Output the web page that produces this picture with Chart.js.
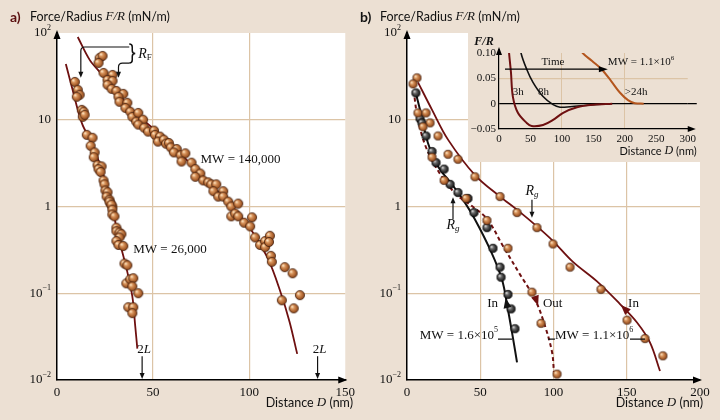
<!DOCTYPE html>
<html>
<head>
<meta charset="utf-8">
<title>Polymer brush forces</title>
<script src="https://cdn.jsdelivr.net/npm/chart.js"></script>
<style>
  html, body { margin: 0; padding: 0; background: #ece0d3; }
  #wrap { position: relative; width: 720px; height: 420px; overflow: hidden; background: #ece0d3; }
  canvas { position: absolute; }
  #panelA { left: 0; top: 0; }
  #panelB { left: 360px; top: 0; }
  #inset { left: 468px; top: 32px; background: #ece0d3; }
</style>
</head>
<body>
<div id="wrap">
  <canvas id="panelA" width="360" height="420"></canvas>
  <canvas id="panelB" width="360" height="420"></canvas>
  <canvas id="inset" width="232" height="130"></canvas>
</div>
<script>
// ===== DATA =====
// shared log axis (F/R in mN/m)
const logTickValues = [100, 10, 1, 0.1, 0.01];
const logTickBase = ['10', '10', '1', '10', '10'];
const logTickExp = ['2', '', '', '\u22121', '\u22122'];

// panel a
const aTickValuesX = [0, 50, 100, 150];
const a140D = [22.2, 23.7, 21.6, 24.2, 28.9, 26.3, 28.9, 26.3, 28.4, 30.9, 34.5, 32.0, 32.5, 36.6, 35.6, 38.1,
  39.2, 42.3, 41.2, 44.8, 42.3, 45.4, 47.4, 50.5, 51.0, 53.6, 52.5, 55.6, 56.7, 58.2, 59.2, 62.3, 60.8, 64.3,
  66.8, 64.8, 70.0, 72.0, 74.6, 72.0, 76.1, 78.7, 80.3, 82.9, 81.4, 86.5, 83.9, 86.5, 89.1, 90.7, 94.3, 90.7,
  92.7, 94.3, 97.4, 101.5, 100.5, 103.1, 105.7, 108.3, 110.8, 108.3, 110.3, 111.3, 111.8, 118.5, 122.6, 117.0,
  123.2, 126.4];
const a140F = [51.6, 54.4, 45.2, 34.7, 32.9, 28.8, 28.1, 25.3, 22.7, 21.5, 19.9, 18.4, 16.1, 15.7, 13.7, 12.4,
  10.8, 12.0, 9.5, 10.0, 8.8, 8.1, 7.3, 7.5, 6.7, 6.4, 5.6, 5.9, 5.3, 5.4, 4.8, 4.6, 4.2, 3.9,
  4.1, 3.3, 3.2, 2.7, 2.4, 2.2, 2.0, 1.9, 1.8, 1.8, 1.5, 1.5, 1.3, 1.3, 1.14, 1.0, 1.08, 0.77,
  0.83, 0.77, 0.65, 0.75, 0.59, 0.44, 0.36, 0.40, 0.46, 0.34, 0.39, 0.27, 0.23, 0.20, 0.17, 0.083,
  0.067, 0.095];
const a26D = [9.3, 10.8, 11.8, 10.3, 12.9, 13.9, 13.4, 14.4, 15.5, 18.5, 17.5, 19.6, 19.1, 21.1, 23.2, 21.6,
  22.7, 24.2, 24.7, 25.2, 26.3, 25.8, 27.3, 27.8, 28.8, 27.3, 28.3, 28.8, 28.8, 29.9, 30.9, 30.9, 32.5, 33.5,
  32.5, 30.9, 32.0, 34.5, 35.1, 36.6, 36.1, 38.1, 39.7, 39.2, 42.3, 37.1, 39.7, 39.2];
const a26F = [27.3, 22.1, 19.4, 18.4, 13.0, 12.4, 10.8, 11.4, 6.7, 6.2, 5.0, 4.2, 3.7, 3.0, 2.9, 2.7,
  2.5, 2.0, 1.8, 1.53, 1.46, 1.30, 1.20, 1.09, 1.0, 1.14, 1.05, 0.92, 0.81, 0.77, 0.57, 0.52, 0.50, 0.48,
  0.44, 0.40, 0.36, 0.35, 0.22, 0.21, 0.13, 0.145, 0.149, 0.12, 0.10, 0.069, 0.069, 0.059];
const a140FitD = [10.8, 17, 22.2, 26.3, 39.2, 56.7, 73.7, 89.2, 101, 109.8, 116.5, 121, 125];
const a140FitF = [90, 49, 35.7, 28.8, 13, 5.9, 2.5, 1.11, 0.54, 0.25, 0.10, 0.047, 0.020];
const a26FitD = [4.6, 7.7, 12.9, 18, 23.7, 28.8, 31.4, 36, 39.2, 40.7, 41.8];
const a26FitF = [44, 24, 9.2, 5.4, 2.5, 1.0, 0.50, 0.20, 0.092, 0.042, 0.023];

// panel b
const bTickValuesX = [0, 50, 100, 150, 200];
const b16D = [6.1, 8.9, 10.2, 13.0, 17.1, 19.8, 25.3, 29.4, 34.8, 41.6, 45.7, 54.6, 58.7, 63.5, 64.2, 68.9, 71.0, 73.7];
const b16F = [20.4, 10.3, 9.2, 6.5, 4.3, 3.2, 2.7, 1.8, 1.45, 1.24, 0.85, 0.57, 0.33, 0.20, 0.153, 0.097, 0.066, 0.039];
const b11D = [6.8, 4.1, 7.5, 13.0, 15.7, 10.9, 21.2, 28.0, 17.1, 34.8, 25.3, 46.4, 40.3, 63.5, 75.1, 54.6,
  88.7, 68.9, 99.7, 111.3, 85.3, 132.4, 91.5, 150.2, 162.5, 174.7, 102.4];
const b11F = [30.4, 25.9, 12.0, 12.0, 9.2, 8.3, 6.5, 4.0, 3.7, 3.5, 2.0, 2.2, 1.24, 1.30, 0.85, 0.69,
  0.57, 0.33, 0.37, 0.20, 0.103, 0.111, 0.045, 0.049, 0.030, 0.019, 0.0117];
const b16InD = [5.5, 8.9, 14.3, 21.2, 30.7, 38.2, 46.4, 56.7, 64.8, 68.9, 72.4, 75.1];
const b16InF = [22, 13, 5.4, 2.9, 1.8, 1.2, 0.71, 0.32, 0.145, 0.065, 0.030, 0.016];
const b11OutD = [4, 7.5, 13.7, 23.9, 34.1, 43, 54.6, 65.5, 77.1, 87.4, 94.2, 99, 100.3];
const b11OutF = [26, 10, 4.5, 2.2, 1.35, 1.05, 0.72, 0.35, 0.165, 0.085, 0.042, 0.021, 0.0124];
const b11InD = [7.5, 17.1, 28, 46.4, 63.5, 75, 88.7, 99.7, 113.3, 129.7, 145.4, 157, 165.9, 172.7];
const b11InF = [27, 13, 5.9, 2.3, 1.30, 0.92, 0.59, 0.40, 0.23, 0.137, 0.075, 0.046, 0.027, 0.0127];

// inset (F/R vs D, MW = 1.1x10^6, time series)
const insetTickValuesX = [0, 50, 100, 150, 200, 250, 300];
const insetTickValuesY = [-0.05, 0, 0.05, 0.10];
const insetTickLabelsY = ['\u22120.05', '0', '0.05', '0.10'];
const ins3hD = [14.5, 16, 19, 22, 30, 44, 52, 70, 86, 102, 124, 150, 180];
const ins3hF = [0.13, 0.10, 0.062, 0.014, -0.018, -0.038, -0.044, -0.042, -0.032, -0.018, -0.007, -0.002, 0];
const ins8hD = [32, 35, 44, 54, 70, 86, 97, 113, 150, 170];
const ins8hF = [0.13, 0.10, 0.068, 0.042, 0.014, -0.002, -0.007, -0.006, -0.002, -0.001];
const ins24hD = [125, 133, 148, 163, 178, 192, 205, 216, 230];
const ins24hF = [0.115, 0.10, 0.084, 0.068, 0.045, 0.022, 0.007, 0.001, 0];

(function() {
    'use strict';

    const SERIF = '"Liberation Serif", "DejaVu Serif", serif';
    const SANS = 'Lato, "Open Sans", sans-serif';
    const RED = '#6e1010';
    const BROWN = '#b4561e';
    const INK = '#111';
    const GRID = '#dcc4a6';

    const serif = (size, style) => (style || '') + ' ' + size + 'px ' + SERIF;
    const sans = (size, style) => (style || '') + ' ' + size + 'px ' + SANS;

    // ===== HELPERS =====
    function zip(xs, ys) {
        return xs.map((x, i) => ({ x: x, y: ys[i] }));
    }

    // parts: [text, font, dy]
    function drawParts(ctx, parts, x, y, align) {
        let total = 0;
        parts.forEach(p => { ctx.font = p[1]; total += ctx.measureText(p[0]).width; });
        let cx = align === 'right' ? x - total : (align === 'center' ? x - total / 2 : x);
        ctx.textAlign = 'left';
        ctx.textBaseline = 'middle';
        parts.forEach(p => {
            ctx.font = p[1];
            ctx.fillText(p[0], cx, y + (p[2] || 0));
            cx += ctx.measureText(p[0]).width;
        });
    }

    function arrowHead(ctx, x, y, ang, len, half) {
        ctx.save();
        ctx.translate(x, y);
        ctx.rotate(ang);
        ctx.beginPath();
        ctx.moveTo(0, 0);
        ctx.lineTo(-len, -half);
        ctx.lineTo(-len, half);
        ctx.closePath();
        ctx.fill();
        ctx.restore();
    }

    function makeBall(d, stops, edge) {
        const c = document.createElement('canvas');
        c.width = c.height = d + 2;
        const g = c.getContext('2d');
        const r = d / 2, cx = r + 1;
        const grad = g.createRadialGradient(cx - r * 0.35, cx - r * 0.35, r * 0.1, cx, cx, r);
        stops.forEach(s => grad.addColorStop(s[0], s[1]));
        g.fillStyle = grad;
        g.beginPath();
        g.arc(cx, cx, r - 0.4, 0, Math.PI * 2);
        g.fill();
        g.strokeStyle = edge;
        g.lineWidth = 0.8;
        g.stroke();
        return c;
    }

    const orangeStops = [[0, '#fbe0bd'], [0.3, '#d8945c'], [0.75, '#a45a28'], [1, '#6a3418']];
    const blackStops = [[0, '#d8d8d8'], [0.3, '#6a6a6a'], [0.75, '#2a2a2a'], [1, '#111']];
    const ballA = makeBall(10, orangeStops, '#4b2612');
    const ballB = makeBall(9, orangeStops, '#4b2612');
    const ballBlack = makeBall(9, blackStops, '#000');

    function curve(xs, ys, color, width, dash) {
        return {
            data: zip(xs, ys), showLine: true, borderColor: color, borderWidth: width,
            borderDash: dash || [], pointRadius: 0, tension: 0.35, fill: false, order: 2
        };
    }

    function balls(xs, ys, img) {
        return {
            data: zip(xs, ys), showLine: false, pointStyle: img, pointRadius: 5,
            order: 1, clip: false
        };
    }

    // the x scale keeps a fixed 30px box so its labels are not clipped away
    function logPanelOptions(xTicks, xMax, padding) {
        return {
            responsive: false,
            animation: false,
            events: [],
            layout: { padding: padding },
            plugins: { legend: { display: false }, tooltip: { enabled: false } },
            scales: {
                x: {
                    type: 'linear', min: 0, max: xMax,
                    afterBuildTicks: s => { s.ticks = xTicks.map(v => ({ value: v })); },
                    afterFit: s => { s.height = 30; },
                    grid: {
                        color: c => (c.tick && c.tick.value > 0 && c.tick.value < xMax) ? GRID : 'transparent',
                        lineWidth: 1.2, drawTicks: false
                    },
                    border: { display: true, color: '#000', width: 1.5 },
                    ticks: {
                        padding: 5, color: INK, autoSkip: false, maxRotation: 0,
                        font: { family: SERIF, size: 13 },
                        callback: v => String(v)
                    }
                },
                y: {
                    type: 'logarithmic', min: 0.01, max: 100,
                    afterBuildTicks: s => { s.ticks = logTickValues.map(v => ({ value: v })); },
                    afterFit: s => { s.width = 0; },
                    grid: {
                        color: c => (c.tick && [10, 1, 0.1].indexOf(c.tick.value) >= 0) ? GRID : 'transparent',
                        lineWidth: 1.2, drawTicks: false
                    },
                    border: { display: true, color: '#000', width: 1.5 },
                    ticks: { display: false }
                }
            }
        };
    }

    // white plot area, axis arrows, y tick labels, titles
    function panelFrame(letter, letterColor, xTitleRight) {
        return {
            id: 'panelFrame',
            beforeDraw(chart) {
                const a = chart.chartArea, ctx = chart.ctx;
                ctx.save();
                ctx.fillStyle = '#fff';
                ctx.fillRect(a.left, a.top, a.right - a.left, a.bottom - a.top);
                ctx.restore();
            },
            afterDraw(chart) {
                const a = chart.chartArea, ctx = chart.ctx, y = chart.scales.y;
                ctx.save();
                ctx.fillStyle = '#000';
                arrowHead(ctx, a.left, a.top - 3, -Math.PI / 2, 9, 3.5);
                arrowHead(ctx, a.right + 2, a.bottom, 0, 9, 3.5);

                ctx.fillStyle = INK;
                logTickValues.forEach((v, i) => {
                    const parts = [[logTickBase[i], serif(13)]];
                    if (logTickExp[i]) parts.push([logTickExp[i], serif(8), -5]);
                    drawParts(ctx, parts, a.left - 6, y.getPixelForValue(v), 'right');
                });

                ctx.fillStyle = letterColor;
                drawParts(ctx, [[letter, sans(14, 'bold')]], a.left - 47, 17, 'left');
                ctx.fillStyle = INK;
                drawParts(ctx, [['Force/Radius ', sans(12.5)], ['F/R', serif(13, 'italic')], [' (mN/m)', sans(12.5)]],
                    a.left - 27, 17, 'left');
                drawParts(ctx, [['Distance ', sans(12.5)], ['D', serif(13, 'italic')], [' (nm)', sans(12.5)]],
                    xTitleRight, 403, 'right');
                ctx.restore();
            }
        };
    }

    // ===== PANEL A =====
    const panelANotes = {
        id: 'panelANotes',
        afterDraw(chart) {
            const ctx = chart.ctx, a = chart.chartArea;
            const px = v => chart.scales.x.getPixelForValue(v);
            const py = v => chart.scales.y.getPixelForValue(v);
            ctx.save();
            ctx.fillStyle = INK;
            ctx.strokeStyle = INK;
            ctx.lineWidth = 1.2;

            drawParts(ctx, [['MW = 140,000', serif(13)]], px(74.7), py(3.47), 'left');
            drawParts(ctx, [['MW = 26,000', serif(13)]], px(39.7), py(0.32), 'left');

            // 2L markers
            [44.3, 135.6].forEach(d => {
                drawParts(ctx, [['2', serif(13)], ['L', serif(13, 'italic')]], px(d) + 2, py(0.0227), 'center');
                ctx.beginPath();
                ctx.moveTo(px(d), py(0.0188));
                ctx.lineTo(px(d), a.bottom - 6);
                ctx.stroke();
                arrowHead(ctx, px(d), a.bottom - 1, Math.PI / 2, 6, 2.5);
            });

            // R_F bracket
            const xL = px(12.4), xR = px(32.0), xB = px(37.6);
            const yTop = py(69), yLow = py(45), yTip = py(30.4);
            ctx.beginPath();
            ctx.moveTo(xL, yTip - 5);
            ctx.lineTo(xL, yTop + 4);
            ctx.quadraticCurveTo(xL, yTop, xL + 4, yTop);
            ctx.lineTo(xB, yTop);
            ctx.moveTo(xB, yLow);
            ctx.lineTo(xR + 4, yLow);
            ctx.quadraticCurveTo(xR, yLow, xR, yLow + 4);
            ctx.lineTo(xR, yTip - 5);
            ctx.stroke();
            arrowHead(ctx, xL, yTip, Math.PI / 2, 6, 2.5);
            arrowHead(ctx, xR, yTip, Math.PI / 2, 6, 2.5);

            const b1 = yTop - 3, b2 = yLow, ym = (b1 + b2) / 2, x1 = xB + 3, x2 = xB + 6;
            ctx.lineWidth = 1.5;
            ctx.beginPath();
            ctx.moveTo(xB, b1);
            ctx.quadraticCurveTo(x1, b1, x1, b1 + 3);
            ctx.lineTo(x1, ym - 3);
            ctx.quadraticCurveTo(x1, ym, x2, ym);
            ctx.quadraticCurveTo(x1, ym, x1, ym + 3);
            ctx.lineTo(x1, b2 - 3);
            ctx.quadraticCurveTo(x1, b2, xB, b2);
            ctx.stroke();
            drawParts(ctx, [['R', serif(14, 'italic')], ['F', serif(9), 3]], x2 + 3, ym + 1, 'left');
            ctx.restore();
        }
    };

    function initPanelA() {
        const canvas = document.getElementById('panelA');
        if (!canvas) return;
        new Chart(canvas.getContext('2d'), {
            type: 'scatter',
            data: {
                datasets: [
                    curve(a140FitD, a140FitF, RED, 1.8),
                    curve(a26FitD, a26FitF, RED, 1.8),
                    balls(a140D, a140F, ballA),
                    balls(a26D, a26F, ballA)
                ]
            },
            options: logPanelOptions(aTickValuesX, 150, { left: 57, right: 10, top: 33, bottom: 10 }),
            plugins: [panelFrame('a)', '#5a0f0f', 353), panelANotes]
        });
    }

    // ===== PANEL B =====
    const panelBNotes = {
        id: 'panelBNotes',
        afterDraw(chart) {
            const ctx = chart.ctx;
            const px = v => chart.scales.x.getPixelForValue(v);
            const py = v => chart.scales.y.getPixelForValue(v);
            const curveArrow = (d, f, d2, f2, color) => {
                const x = px(d), y = py(f);
                const ang = Math.atan2(py(f2) - y, px(d2) - x);
                ctx.fillStyle = color;
                arrowHead(ctx, x, y, ang, 10, 4);
            };
            ctx.save();
            ctx.fillStyle = INK;
            ctx.strokeStyle = INK;
            ctx.lineWidth = 1.2;

            // R_g markers
            drawParts(ctx, [['R', serif(14, 'italic')], ['g', serif(9, 'italic'), 3]], px(85.3), py(1.5), 'center');
            ctx.beginPath();
            ctx.moveTo(px(85.3), py(1.2));
            ctx.lineTo(px(85.3), py(0.8));
            ctx.stroke();
            arrowHead(ctx, px(85.3), py(0.74), Math.PI / 2, 6, 2.5);

            drawParts(ctx, [['R', serif(14, 'italic')], ['g', serif(9, 'italic'), 3]], px(31.4), py(0.6), 'center');
            ctx.beginPath();
            ctx.moveTo(px(31.4), py(0.72));
            ctx.lineTo(px(31.4), py(1.15));
            ctx.stroke();
            arrowHead(ctx, px(31.4), py(1.28), -Math.PI / 2, 6, 2.5);

            // direction arrows
            curveArrow(67.3, 0.088, 64.8, 0.145, INK);
            curveArrow(89.5, 0.072, 94.2, 0.042, RED);
            curveArrow(146.0, 0.073, 129.7, 0.137, RED);
            ctx.fillStyle = INK;
            drawParts(ctx, [['In', serif(13)]], px(62.1), py(0.077), 'right');
            drawParts(ctx, [['Out', serif(13)]], px(92.8), py(0.077), 'left');
            drawParts(ctx, [['In', serif(13)]], px(150.9), py(0.077), 'left');

            // MW labels with leaders
            drawParts(ctx, [['MW = 1.6\u00d710', serif(13)], ['5', serif(8), -5]], px(62.1), py(0.0329), 'right');
            drawParts(ctx, [['MW = 1.1\u00d710', serif(13)], ['6', serif(8), -5]], px(101), py(0.0329), 'left');
            ctx.beginPath();
            ctx.moveTo(px(62.1), py(0.0296)); ctx.lineTo(px(71.7), py(0.0296));
            ctx.moveTo(px(96.2), py(0.0296)); ctx.lineTo(px(101), py(0.0296));
            ctx.moveTo(px(152.2), py(0.0296)); ctx.lineTo(px(162.5), py(0.0296));
            ctx.stroke();
            ctx.restore();
        }
    };

    function initPanelB() {
        const canvas = document.getElementById('panelB');
        if (!canvas) return;
        new Chart(canvas.getContext('2d'), {
            type: 'scatter',
            data: {
                datasets: [
                    curve(b11InD, b11InF, RED, 1.8),
                    curve(b11OutD, b11OutF, RED, 2, [4, 3]),
                    curve(b16InD, b16InF, INK, 2),
                    balls(b11D, b11F, ballB),
                    balls(b16D, b16F, ballBlack)
                ]
            },
            options: logPanelOptions(bTickValuesX, 200, { left: 47, right: 20, top: 33, bottom: 10 }),
            plugins: [panelFrame('b)', INK, 343), panelBNotes]
        });
    }

    // ===== INSET =====
    const insetNotes = {
        id: 'insetNotes',
        afterDraw(chart) {
            const ctx = chart.ctx, a = chart.chartArea;
            const px = v => chart.scales.x.getPixelForValue(v);
            const py = v => chart.scales.y.getPixelForValue(v);
            ctx.save();
            ctx.fillStyle = '#000';
            ctx.strokeStyle = '#000';
            ctx.lineWidth = 1.2;

            // axis extensions with arrows, zero line
            ctx.beginPath();
            ctx.moveTo(a.left, a.top); ctx.lineTo(a.left, a.top - 4);
            ctx.moveTo(a.right, a.bottom); ctx.lineTo(a.right + 5, a.bottom);
            ctx.moveTo(a.right, py(0)); ctx.lineTo(a.right + 9, py(0));
            ctx.stroke();
            arrowHead(ctx, a.left, a.top - 6, -Math.PI / 2, 8, 3);
            arrowHead(ctx, a.right + 8, a.bottom, 0, 8, 3);

            // time arrow
            ctx.beginPath();
            ctx.moveTo(px(9.5), py(0.068)); ctx.lineTo(px(165), py(0.068));
            ctx.stroke();
            arrowHead(ctx, px(173), py(0.068), 0, 9, 3);

            ctx.fillStyle = INK;
            drawParts(ctx, [['Time', serif(11)]], px(85.7), py(0.082), 'center');
            drawParts(ctx, [['MW = 1.1\u00d710', serif(11)], ['6', serif(7), -4]], px(173), py(0.082), 'left');
            drawParts(ctx, [['3h', serif(11)]], px(22), py(0.022), 'left');
            drawParts(ctx, [['8h', serif(11)]], px(62), py(0.022), 'left');
            drawParts(ctx, [['>24h', serif(11)]], px(200), py(0.022), 'left');
            drawParts(ctx, [['F/R', serif(12, 'italic bold')]], a.left - 15, a.top - 11, 'center');
            drawParts(ctx, [['Distance ', sans(11)], ['D', serif(12, 'italic')], [' (nm)', sans(11)]],
                a.right + 9, a.bottom + 22, 'right');
            ctx.restore();
        }
    };

    function initInset() {
        const canvas = document.getElementById('inset');
        if (!canvas) return;
        new Chart(canvas.getContext('2d'), {
            type: 'scatter',
            data: {
                datasets: [
                    curve(ins3hD, ins3hF, RED, 2),
                    curve(ins8hD, ins8hF, INK, 1.6),
                    curve(ins24hD, ins24hF, BROWN, 2)
                ]
            },
            options: {
                responsive: false,
                animation: false,
                events: [],
                layout: { padding: { left: 0, right: 12, top: 21, bottom: 13 } },
                plugins: { legend: { display: false }, tooltip: { enabled: false } },
                scales: {
                    x: {
                        type: 'linear', min: 0, max: 300,
                        afterBuildTicks: s => { s.ticks = insetTickValuesX.map(v => ({ value: v })); },
                        afterFit: s => { s.height = 20; },
                        grid: {
                            color: c => (c.tick && (c.tick.value === 100 || c.tick.value === 200)) ? GRID : 'transparent',
                            drawTicks: false
                        },
                        border: { display: true, color: '#000', width: 1.2 },
                        ticks: {
                            padding: 4, color: INK, autoSkip: false, maxRotation: 0,
                            font: { family: SERIF, size: 11 },
                            callback: v => String(v)
                        }
                    },
                    y: {
                        type: 'linear', min: -0.05, max: 0.10,
                        afterBuildTicks: s => { s.ticks = insetTickValuesY.map(v => ({ value: v })); },
                        afterFit: s => { s.width = 31; },
                        grid: {
                            color: c => {
                                if (!c.tick) return 'transparent';
                                if (c.tick.value === 0) return '#000';
                                return c.tick.value === 0.05 ? GRID : 'transparent';
                            },
                            lineWidth: 1.2, drawTicks: false
                        },
                        border: { display: true, color: '#000', width: 1.2 },
                        ticks: {
                            padding: 3, color: INK,
                            font: { family: SERIF, size: 11 },
                            callback: v => insetTickLabelsY[insetTickValuesY.indexOf(v)]
                        }
                    }
                }
            },
            plugins: [insetNotes]
        });
    }

    initPanelA();
    initPanelB();
    initInset();
})();
</script>
</body>
</html>
